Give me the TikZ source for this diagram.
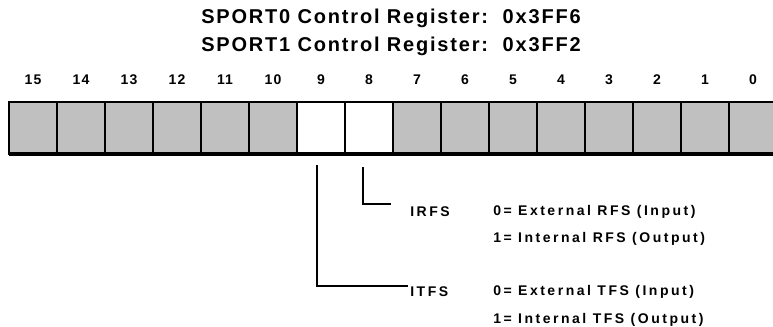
\documentclass[tikz,border=0pt]{standalone}
\usepackage{fontspec}
\setmainfont{Liberation Sans}
\newfontfamily\titlefont{Liberation Sans}[LetterSpace=9]
\newfontfamily\numfont{Liberation Sans}[LetterSpace=8]
\newfontfamily\labelfont{Liberation Sans}[LetterSpace=18]
\usepackage{xcolor}
\definecolor{cellgray}{HTML}{C0C0C0}
\usepackage{tikz}
\usetikzlibrary{positioning}

\begin{document}
\begin{tikzpicture}[
  x=0.75pt, y=-0.75pt,
  cell/.style={draw, line width=1.8pt, fill=cellgray, minimum width=36pt,
               minimum height=39pt, inner sep=0pt, outer sep=0pt},
  freecell/.style={cell, fill=white},
  bitnum/.style={font=\numfont\bfseries\fontsize{10.5}{12}\selectfont, inner sep=0pt},
  title/.style={font=\titlefont\bfseries\fontsize{15}{17}\selectfont, inner sep=0pt},
  lbl/.style={font=\labelfont\bfseries\fontsize{10.5}{12}\selectfont, inner sep=0pt, anchor=west},
  lead/.style={line width=2.2pt}
]
\useasboundingbox (0,0) rectangle (773,326);

\node[title] (sport0) at (391,18) {SPORT0 Control Register:\ \ 0x3FF6};
\node[title] (sport1) at (391,46) {SPORT1 Control Register:\ \ 0x3FF2};

% register cells, bit 15 on the left
\foreach \b in {0,...,15} {
  \pgfmathsetmacro{\cx}{33+48*(15-\b)}
  \ifnum\b=8 \def\cs{freecell}\else\ifnum\b=9 \def\cs{freecell}\else\def\cs{cell}\fi\fi
  \node[\cs] (bit\b) at (\cx,128) {};
  \node[bitnum] (num\b) at (\cx,80) {\b};
}
\draw[line width=2.4pt] (bit15.south west) -- (bit0.south east);

\node[lbl] (irfs) at (410,212) {IRFS};
\node[lbl] (irfs0) at (493,212) {0= External RFS (Input)};
\node[lbl] (irfs1) at (493,239) {1= Internal RFS (Output)};
\node[lbl] (itfs) at (410,292) {ITFS};
\node[lbl] (itfs0) at (493,292) {0= External TFS (Input)};
\node[lbl] (itfs1) at (493,320) {1= Internal TFS (Output)};

\draw[lead] ([shift={(-6,13)}]bit8.south) |- ([shift={(-19,-8)}]irfs.west);
\draw[lead] ([shift={(-4,11)}]bit9.south) |- ([shift={(-2,-6)}]itfs.west);
\end{tikzpicture}
\end{document}
